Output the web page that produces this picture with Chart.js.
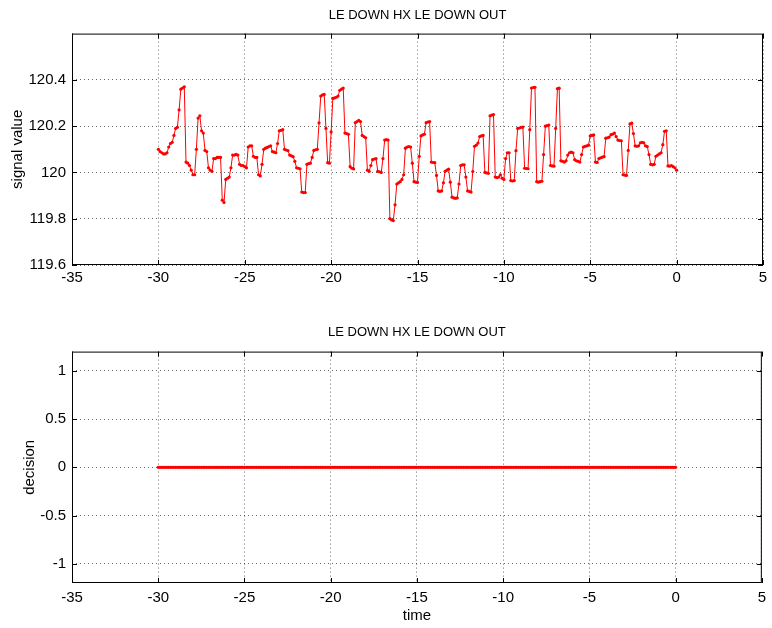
<!DOCTYPE html>
<html>
<head>
<meta charset="utf-8">
<title>LE DOWN HX LE DOWN OUT</title>
<script src="https://cdn.jsdelivr.net/npm/chart.js@4.4.1/dist/chart.umd.min.js"></script>
<style>
  html, body { margin: 0; padding: 0; background: #fff; }
  #wrap { position: relative; width: 772px; height: 628px; }
  canvas { position: absolute; left: 0; }
  #top { top: 0; }
  #bottom { top: 300px; }
</style>
</head>
<body>
<div id="wrap">
  <canvas id="top" width="772" height="300"></canvas>
  <canvas id="bottom" width="772" height="328"></canvas>
</div>
<script>
const plotTitle = 'LE DOWN HX LE DOWN OUT';

// sample grid: one reading every 0.1 s from -30 to 0
const tStart = -30;
const tStep = 0.1;

const signalValues = [
  120.10, 120.09, 120.085, 120.08, 120.08, 120.085, 120.11, 120.125, 120.13, 120.16,
  120.19, 120.195, 120.27, 120.36, 120.365, 120.37, 120.045, 120.04, 120.03, 120.01,
  119.99, 119.99, 120.10, 120.235, 120.245, 120.18, 120.17, 120.095, 120.09, 120.02,
  120.01, 120.005, 120.06, 120.06, 120.065, 120.065, 120.065, 119.88, 119.87, 119.97,
  119.975, 119.98, 120.02, 120.075, 120.075, 120.078, 120.075, 120.035, 120.03, 120.03,
  120.025, 120.02, 120.11, 120.115, 120.115, 120.07, 120.065, 120.065, 119.99, 119.985,
  120.035, 120.10, 120.105, 120.108, 120.112, 120.115, 120.09, 120.088, 120.085, 120.125,
  120.18, 120.182, 120.185, 120.10, 120.097, 120.094, 120.075, 120.072, 120.068, 120.048,
  120.02, 120.018, 120.016, 119.915, 119.913, 119.913, 120.035, 120.038, 120.04, 120.065,
  120.095, 120.098, 120.10, 120.214, 120.33, 120.335, 120.337, 120.19, 120.042, 120.04,
  120.175, 120.32, 120.322, 120.325, 120.33, 120.355, 120.36, 120.365, 120.17, 120.168,
  120.165, 120.025, 120.018, 120.015, 120.215, 120.22, 120.225, 120.22, 120.16, 120.155,
  120.15, 120.01, 120.005, 120.03, 120.055, 120.058, 120.06, 120.005, 120.003, 120.0,
  120.06, 120.14, 120.142, 120.14, 119.80, 119.795, 119.792, 119.86, 119.95, 119.955,
  119.96, 119.97, 119.99, 120.105, 120.11, 120.112, 120.11, 120.04, 119.96, 119.958,
  119.957, 120.07, 120.158, 120.162, 120.165, 120.215, 120.218, 120.22, 120.045, 120.043,
  120.042, 119.987, 119.92, 119.918, 119.92, 119.955, 120.005, 120.01, 120.014, 119.958,
  119.893, 119.89, 119.888, 119.89, 119.95, 120.03, 120.033, 120.033, 119.98, 119.92,
  119.918, 119.915, 120.004, 120.113, 120.118, 120.127, 120.155, 120.158, 120.16, 120.0,
  119.998, 119.996, 120.245, 120.248, 120.25, 119.98, 119.978, 119.98, 119.99, 119.975,
  119.97, 120.06, 120.085, 120.085, 119.965, 119.963, 119.965, 120.094, 120.19, 120.192,
  120.195, 120.196, 120.018, 120.017, 120.016, 120.185, 120.365, 120.367, 120.368, 119.96,
  119.958, 119.96, 119.962, 120.077, 120.2, 120.202, 120.205, 120.03, 120.028, 120.027,
  120.19, 120.362, 120.364, 120.05, 120.048, 120.045, 120.05, 120.075, 120.085, 120.088,
  120.085, 120.055, 120.05, 120.048, 120.045, 120.077, 120.11, 120.113, 120.115, 120.118,
  120.158, 120.16, 120.162, 120.045, 120.043, 120.06, 120.063, 120.066, 120.068, 120.148,
  120.15, 120.153, 120.163, 120.166, 120.17, 120.155, 120.14, 120.138, 120.137, 119.99,
  119.988, 119.987, 120.095, 120.21, 120.213, 120.168, 120.115, 120.113, 120.115, 120.128,
  120.13, 120.128, 120.115, 120.112, 120.077, 120.035, 120.033, 120.035, 120.07, 120.075,
  120.08, 120.085, 120.12, 120.178, 120.18, 120.028, 120.027, 120.03, 120.025, 120.02,
  120.01
];

const decisionValues = [
  0, 0, 0, 0, 0, 0, 0, 0, 0, 0, 0, 0, 0, 0, 0, 0, 0, 0, 0, 0,
  0, 0, 0, 0, 0, 0, 0, 0, 0, 0, 0, 0, 0, 0, 0, 0, 0, 0, 0, 0,
  0, 0, 0, 0, 0, 0, 0, 0, 0, 0, 0, 0, 0, 0, 0, 0, 0, 0, 0, 0,
  0, 0, 0, 0, 0, 0, 0, 0, 0, 0, 0, 0, 0, 0, 0, 0, 0, 0, 0, 0,
  0, 0, 0, 0, 0, 0, 0, 0, 0, 0, 0, 0, 0, 0, 0, 0, 0, 0, 0, 0,
  0, 0, 0, 0, 0, 0, 0, 0, 0, 0, 0, 0, 0, 0, 0, 0, 0, 0, 0, 0,
  0, 0, 0, 0, 0, 0, 0, 0, 0, 0, 0, 0, 0, 0, 0, 0, 0, 0, 0, 0,
  0, 0, 0, 0, 0, 0, 0, 0, 0, 0, 0, 0, 0, 0, 0, 0, 0, 0, 0, 0,
  0, 0, 0, 0, 0, 0, 0, 0, 0, 0, 0, 0, 0, 0, 0, 0, 0, 0, 0, 0,
  0, 0, 0, 0, 0, 0, 0, 0, 0, 0, 0, 0, 0, 0, 0, 0, 0, 0, 0, 0,
  0, 0, 0, 0, 0, 0, 0, 0, 0, 0, 0, 0, 0, 0, 0, 0, 0, 0, 0, 0,
  0, 0, 0, 0, 0, 0, 0, 0, 0, 0, 0, 0, 0, 0, 0, 0, 0, 0, 0, 0,
  0, 0, 0, 0, 0, 0, 0, 0, 0, 0, 0, 0, 0, 0, 0, 0, 0, 0, 0, 0,
  0, 0, 0, 0, 0, 0, 0, 0, 0, 0, 0, 0, 0, 0, 0, 0, 0, 0, 0, 0,
  0, 0, 0, 0, 0, 0, 0, 0, 0, 0, 0, 0, 0, 0, 0, 0, 0, 0, 0, 0,
  0
];

const xTicks = [-35, -30, -25, -20, -15, -10, -5, 0, 5];
const signalTicks = [119.6, 119.8, 120, 120.2, 120.4];
const decisionTicks = [-1, -0.5, 0, 0.5, 1];

const times = signalValues.map((_, i) => +(tStart + i * tStep).toFixed(1));

Chart.defaults.font.family = '"Liberation Sans", Arial, sans-serif';
Chart.defaults.color = '#000';

// matlab-like axes box with inward tick marks
const boxPlugin = {
  id: 'box',
  afterDraw(chart) {
    const { ctx, chartArea: a, scales } = chart;
    ctx.save();
    ctx.strokeStyle = '#000';
    ctx.lineWidth = 1;
    ctx.strokeRect(a.left + 0.5, a.top + 0.5, a.right - a.left - 1, a.bottom - a.top - 1);
    ctx.beginPath();
    scales.x.ticks.forEach(t => {
      const x = Math.round(scales.x.getPixelForValue(t.value)) + 0.5;
      ctx.moveTo(x, a.bottom); ctx.lineTo(x, a.bottom - 5);
      ctx.moveTo(x, a.top); ctx.lineTo(x, a.top + 5);
    });
    scales.y.ticks.forEach(t => {
      const y = Math.round(scales.y.getPixelForValue(t.value)) + 0.5;
      ctx.moveTo(a.left, y); ctx.lineTo(a.left + 5, y);
      ctx.moveTo(a.right, y); ctx.lineTo(a.right - 5, y);
    });
    ctx.stroke();
    ctx.restore();
  }
};

const fmt = v => String(Number(Number(v).toFixed(1)));

function panelOptions(p) {
  return {
    responsive: false,
    animation: false,
    devicePixelRatio: 1,
    layout: { padding: { left: 0, right: 9, top: 0, bottom: 0 } },
    plugins: {
      legend: { display: false },
      tooltip: { enabled: false },
      title: {
        display: true,
        text: plotTitle,
        fullSize: false,
        color: '#000',
        font: { size: 13, weight: 'normal' },
        padding: p.titlePad
      }
    },
    scales: {
      x: {
        type: 'linear',
        min: -35,
        max: 5,
        afterBuildTicks: s => { s.ticks = xTicks.map(v => ({ value: v })); },
        afterFit: s => { s.height = p.xHeight; },
        grid: { color: 'rgba(0,0,0,0.6)', drawTicks: false },
        border: { display: false, dash: [1, 3] },
        ticks: { font: { size: 15 }, padding: p.xPad, maxRotation: 0, autoSkip: false, callback: fmt },
        title: p.xTitle
          ? { display: true, text: p.xTitle, font: { size: 15 }, padding: { top: 0, bottom: 3 } }
          : { display: false }
      },
      y: {
        min: p.yMin,
        max: p.yMax,
        afterBuildTicks: s => { s.ticks = p.yTicks.map(v => ({ value: v })); },
        afterFit: s => { s.width = 72; },
        grid: { color: 'rgba(0,0,0,0.6)', drawTicks: false },
        border: { display: false, dash: [1, 3] },
        ticks: { font: { size: 15 }, padding: 6, autoSkip: false, callback: fmt },
        title: { display: true, text: p.yTitle, font: { size: 15 }, padding: { top: p.yTitlePad, bottom: 0 } }
      }
    }
  };
}

function lineData(values) {
  return {
    datasets: [{
      data: times.map((t, i) => ({ x: t, y: values[i] })),
      borderColor: '#ff0000',
      borderWidth: 1,
      pointRadius: 1.6,
      pointBackgroundColor: '#ff0000',
      pointBorderWidth: 0,
      tension: 0
    }]
  };
}

new Chart(document.getElementById('top'), {
  type: 'line',
  data: lineData(signalValues),
  options: panelOptions({
    yMin: 119.6, yMax: 120.6, yTicks: signalTicks,
    yTitle: 'signal value', yTitlePad: 9,
    titlePad: { top: 8, bottom: 10 },
    xHeight: 35, xPad: 4
  }),
  plugins: [boxPlugin]
});

new Chart(document.getElementById('bottom'), {
  type: 'line',
  data: lineData(decisionValues),
  options: panelOptions({
    yMin: -1.2, yMax: 1.2, yTicks: decisionTicks,
    yTitle: 'decision', yTitlePad: 21,
    titlePad: { top: 25, bottom: 11 },
    xHeight: 45, xPad: 6, xTitle: 'time'
  }),
  plugins: [boxPlugin]
});
</script>
</body>
</html>
